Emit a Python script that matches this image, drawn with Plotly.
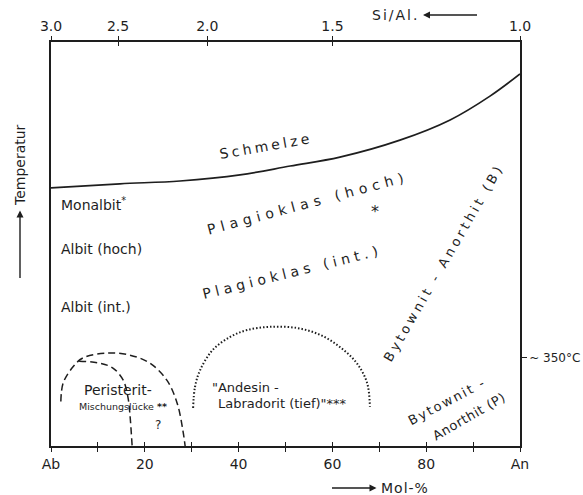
import plotly.graph_objects as go

# ---- data (x: Mol-% An, y: relative temperature 0..100) ----
liquidus_x = [0, 14.7, 27.5, 40.3, 51.0, 61.6, 74.4, 85.1, 93.6, 100]
liquidus_y = [63.9, 64.9, 65.6, 67.1, 69.3, 71.5, 75.7, 80.7, 86.6, 92.1]

peri_outer_x = [2.1, 2.6, 4.7, 6.8, 11.9, 16.8, 21.1, 24.7, 26.9, 28.1, 28.6]
peri_outer_y = [11.0, 15.6, 19.6, 21.8, 23.0, 22.5, 20.5, 16.3, 10.6, 4.0, 0]

peri_inner_x = [6.0, 10.4, 13.2, 15.4, 16.4, 16.8, 17.3]
peri_inner_y = [21.0, 20.5, 19.3, 16.3, 12.1, 8.2, 0]

andesin_x = [30.3, 30.7, 31.8, 34.5, 38.2, 41.8, 46.7, 52.5, 57.4, 61.6, 65.2, 67.4, 68.0]
andesin_y = [9.4, 14.6, 18.8, 23.8, 27.0, 28.7, 29.5, 29.2, 27.5, 24.5, 20.5, 15.6, 9.7]

mol_ticks = [0, 20, 40, 60, 80, 100]
mol_labels = ["Ab", "20", "40", "60", "80", "An"]
mol_minor = [10, 30, 50, 70, 90]
mol_all = [0, 10, 20, 30, 40, 50, 60, 70, 80, 90, 100]

sial_values = [3.0, 2.5, 2.0, 1.5, 1.0]
sial_labels = ["3.0", "2.5", "2.0", "1.5", "1.0"]
sial_pos = [(3 - r) / (1 + r) * 100 for r in sial_values]

t350 = [21.8]
t350_label = ["~ 350°C"]

FONT = "DejaVu Sans"
INK = "#1e1e1e"

fig = go.Figure()
fig.add_trace(go.Scatter(x=liquidus_x, y=liquidus_y, mode="lines",
                         line=dict(color=INK, width=1.7, shape="spline")))
fig.add_trace(go.Scatter(x=peri_outer_x, y=peri_outer_y, mode="lines",
                         line=dict(color=INK, width=1.5, shape="spline", dash="7px,4px")))
fig.add_trace(go.Scatter(x=peri_inner_x, y=peri_inner_y, mode="lines",
                         line=dict(color=INK, width=1.5, shape="spline", dash="7px,4px")))
fig.add_trace(go.Scatter(x=andesin_x, y=andesin_y, mode="lines",
                         line=dict(color=INK, width=2, shape="spline", dash="1.5px,2px")))
# invisible traces to activate the secondary axes
for xa, ya in (("x2", "y2"), ("x3", "y"), ("x4", "y")):
    fig.add_trace(go.Scatter(x=[0, 100], y=[0, 100], mode="markers", marker=dict(opacity=0),
                             xaxis=xa, yaxis=ya, hoverinfo="skip"))

axfont = dict(family=FONT, size=14, color=INK)
common = dict(range=[0, 100], showgrid=False, zeroline=False, linecolor=INK, linewidth=1.6,
              tickcolor=INK, tickwidth=1.4, tickfont=axfont, fixedrange=True,
              automargin=False)

fig.update_layout(
    width=583, height=495,
    margin=dict(l=51, r=63, t=42, b=49, autoexpand=False),
    paper_bgcolor="white", plot_bgcolor="white",
    showlegend=False,
    xaxis=dict(**common, tickmode="array", tickvals=mol_ticks, ticktext=mol_labels,
               showline=True, ticks="outside", ticklen=4,
               minor=dict(tickmode="array", tickvals=mol_minor, ticks="outside", ticklen=4,
                          tickcolor=INK, tickwidth=1.4, showgrid=False)),
    xaxis3=dict(**common, overlaying="x", side="bottom", tickmode="array", tickvals=mol_all,
                showticklabels=False, showline=False, ticks="inside", ticklen=4),
    xaxis2=dict(**common, overlaying="x", side="top", tickmode="array", tickvals=sial_pos,
                ticktext=sial_labels, showline=True, ticks="outside", ticklen=4),
    xaxis4=dict(**common, overlaying="x", side="top", tickmode="array", tickvals=sial_pos,
                showticklabels=False, showline=False, ticks="inside", ticklen=4),
    yaxis=dict(**common, showline=True, showticklabels=False, ticks=""),
    yaxis2=dict(**common, overlaying="y", side="right", showline=True, tickmode="array",
                tickvals=t350, ticktext=t350_label, ticks="outside", ticklen=5),
)
fig.update_layout(yaxis2_tickfont=dict(family=FONT, size=12, color=INK))


def spaced(txt, sp):
    return f'<span style="letter-spacing:{sp}px">{txt}</span>'


def label(text, x, y, size=14, angle=0, xanchor="center", ref="data", align="center"):
    fig.add_annotation(text=text, x=x, y=y, textangle=angle, xanchor=xanchor, yanchor="middle",
                       showarrow=False, align=align,
                       xref="x" if ref == "data" else "paper",
                       yref="y" if ref == "data" else "paper",
                       font=dict(family=FONT, size=size, color=INK))


def arrow_title(text, x, y, ax, ay, angle=0):
    # arrow runs from (x, y) towards the text, with its head next to the text
    fig.add_annotation(text=text, x=x, y=y, xref="paper", yref="paper", ax=ax, ay=ay,
                       textangle=angle, showarrow=True, arrowside="start",
                       startarrowhead=2, startarrowsize=1, arrowwidth=1.4, arrowcolor=INK,
                       startstandoff=3, font=dict(family=FONT, size=14, color=INK))


label(spaced("Schmelze", 3.3), 45.8, 74.3, size=14, angle=-10)
label(spaced("Plagioklas (hoch)", 5.2), 54.8, 60.1, size=14, angle=-15)
label("*", 69.1, 58.0, size=16)
label(spaced("Plagioklas (int.)", 4.5), 51.4, 43.1, size=14, angle=-14)
label("Monalbit<sup>*</sup>", 1.6, 59.9, size=14, xanchor="left")
label("Albit (hoch)", 1.6, 48.8, size=14, xanchor="left")
label("Albit (int.)", 1.6, 34.4, size=14, xanchor="left")
label("Albit<br>(tief)", -3.2, 6.2, size=14, xanchor="left", align="left")
label("Peristerit-", 14.3, 13.9, size=14)
label("Mischungslücke <b>**</b>", 5.5, 9.7, size=9.5, xanchor="left")
label("?", 22.8, 5.2, size=12)
label('"Andesin -', 34.0, 14.6, size=13, xanchor="left")
label('Labradorit (tief)"***', 35.2, 10.6, size=13, xanchor="left")
label(spaced("Bytownit - Anorthit (B)", 3.5), 83.8, 45.3, size=13, angle=-60)
label(spaced("Bytownit -", 2), 84.4, 11.1, size=13, angle=-28)
label(spaced("Anorthit (P)", 0.6), 89.1, 7.4, size=13, angle=-30)

# axis titles with arrows (paper coordinates)
arrow_title(spaced("Si/Al.", 2), (477 - 51) / 469, (446 - 15) / 404, -82, 0)
arrow_title(spaced("Mol-%", 1), (332 - 51) / 469, (446 - 488) / 404, 73, 0)
arrow_title("Temperatur", (20 - 51) / 469, (446 - 278) / 404, 0, -113, angle=-90)

fig.write_html("out.html")
